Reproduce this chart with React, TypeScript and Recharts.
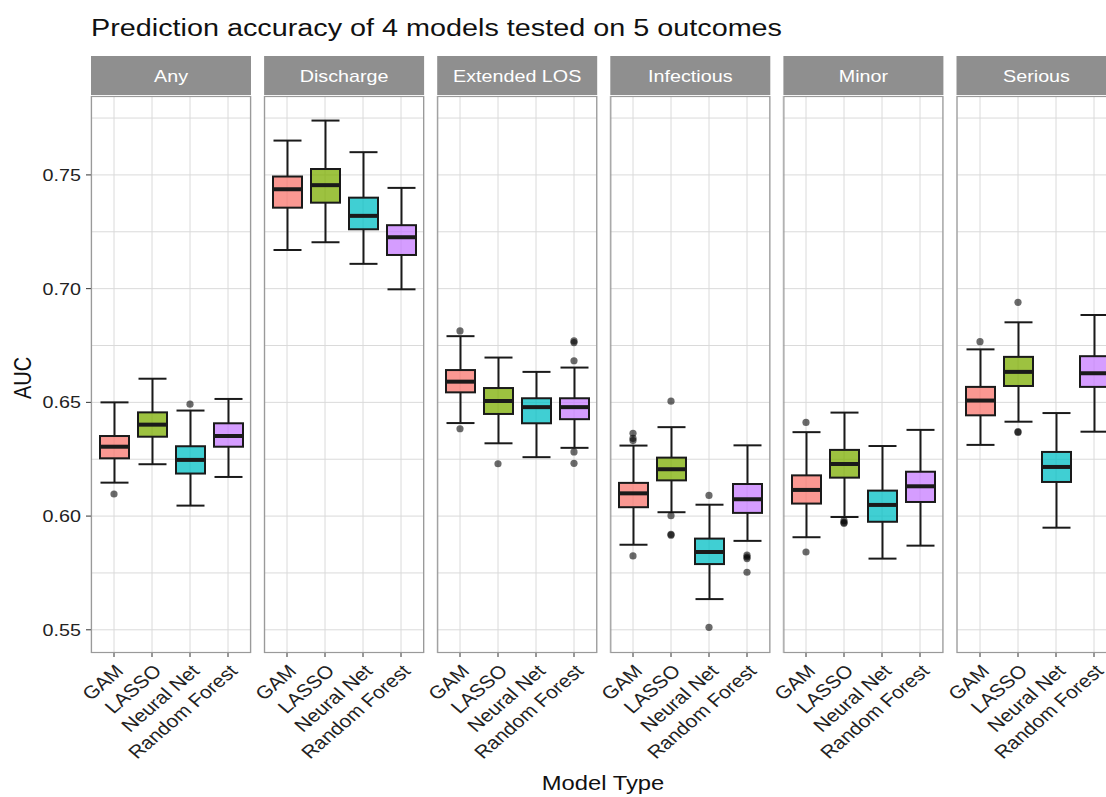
import React from 'react';
import { ComposedChart, Bar, Scatter, XAxis, YAxis, CartesianGrid } from 'recharts';

// ---------- data ----------
const MODELS = ['GAM', 'LASSO', 'Neural Net', 'Random Forest'];
const OUTCOMES = ['Any', 'Discharge', 'Extended LOS', 'Infectious', 'Minor', 'Serious'];
const MODEL_COLORS = ['#F8766D', '#7CAE00', '#00BFC4', '#C77CFF'];
const Y_TICKS = [0.55, 0.6, 0.65, 0.7, 0.75];
const Y_GRID = [0.55, 0.575, 0.6, 0.625, 0.65, 0.675, 0.7, 0.725, 0.75, 0.775];
const Y_DOMAIN = [0.5398, 0.7847];

// [lower whisker, Q1, median, Q3, upper whisker] for GAM, LASSO, Neural Net, Random Forest
const ANY = [
  [0.6147, 0.6254, 0.6305, 0.6352, 0.65],
  [0.6228, 0.6349, 0.6402, 0.6456, 0.6604],
  [0.6046, 0.6187, 0.6247, 0.6307, 0.6464],
  [0.6172, 0.6305, 0.6352, 0.6408, 0.6515],
];
const DISCHARGE = [
  [0.717, 0.7356, 0.7437, 0.7493, 0.7651],
  [0.7204, 0.7378, 0.7455, 0.7526, 0.7739],
  [0.7109, 0.7261, 0.732, 0.74, 0.76],
  [0.6997, 0.7148, 0.7226, 0.7279, 0.7443],
];
const EXTENDED_LOS = [
  [0.6409, 0.6544, 0.6591, 0.6642, 0.6791],
  [0.632, 0.6449, 0.6506, 0.6563, 0.6697],
  [0.6259, 0.6408, 0.6479, 0.6518, 0.6634],
  [0.63, 0.6426, 0.6479, 0.6518, 0.6653],
];
const INFECTIOUS = [
  [0.5874, 0.6039, 0.61, 0.6146, 0.631],
  [0.6017, 0.6157, 0.6206, 0.6257, 0.6391],
  [0.5635, 0.5789, 0.5842, 0.5901, 0.605],
  [0.5891, 0.6014, 0.6074, 0.6141, 0.6311],
];
const MINOR = [
  [0.5907, 0.6055, 0.6115, 0.6179, 0.6369],
  [0.5996, 0.6169, 0.6229, 0.6291, 0.6455],
  [0.5813, 0.5975, 0.6049, 0.6112, 0.6308],
  [0.587, 0.6062, 0.6131, 0.6195, 0.6379],
];
const SERIOUS = [
  [0.6313, 0.6443, 0.6508, 0.6568, 0.6733],
  [0.6415, 0.6572, 0.6634, 0.67, 0.6852],
  [0.5949, 0.615, 0.6216, 0.6282, 0.6453],
  [0.6371, 0.6568, 0.6628, 0.6703, 0.6884],
];

// outliers per model (GAM, LASSO, Neural Net, Random Forest)
const ANY_OUT = [[0.6097], [], [0.6492], []];
const DISCHARGE_OUT = [[], [], [], []];
const EXTENDED_LOS_OUT = [[0.6814, 0.6384], [0.623], [], [0.677, 0.6763, 0.6683, 0.6282, 0.6232]];
const INFECTIOUS_OUT = [[0.6364, 0.6342, 0.6332, 0.5825], [0.6505, 0.6002, 0.592, 0.5916], [0.6091, 0.5511], [0.5828, 0.582, 0.5813, 0.5753]];
const MINOR_OUT = [[0.6412, 0.5842], [0.598, 0.5968, 0.5972], [], []];
const SERIOUS_OUT = [[0.6767], [0.694, 0.6371, 0.6368], [], []];

const STATS = [ANY, DISCHARGE, EXTENDED_LOS, INFECTIOUS, MINOR, SERIOUS];
const OUTLIERS = [ANY_OUT, DISCHARGE_OUT, EXTENDED_LOS_OUT, INFECTIOUS_OUT, MINOR_OUT, SERIOUS_OUT];

// ---------- layout ----------
const FONT = '"Liberation Sans", Arial, Helvetica, sans-serif';
const SX = 1.16;
const PANEL_TOP = 96;
const PANEL_H = 557;
const PANEL_W = 160;
const FIRST_LEFT = 91;
const STEP = 173.1;
const XAXIS_H = 110;
const LEFT_PAD = 80;
const RIGHT_PAD = 10;
const STRIP_TOP = 56;
const STRIP_H = 39;
const INK = '#1a1a1a';

const BoxShape = (props: any) => {
  const { x, y, width, height, payload } = props;
  if (!payload) return null;
  const top = Math.min(y, y + height);
  const h = Math.abs(height);
  const { low, q1, med, q3, high, model } = payload;
  const py = (v: number) => top + (h * (high - v)) / (high - low);
  const cx = x + width / 2;
  const hw = width / 2;
  const color = MODEL_COLORS[MODELS.indexOf(model)];
  return (
    <g>
      <line x1={cx} x2={cx} y1={py(high)} y2={py(q3)} stroke={INK} strokeWidth={2} />
      <line x1={cx} x2={cx} y1={py(q1)} y2={py(low)} stroke={INK} strokeWidth={2} />
      <line x1={cx - hw + 0.5} x2={cx + hw - 0.5} y1={py(high)} y2={py(high)} stroke={INK} strokeWidth={2} />
      <line x1={cx - hw + 0.5} x2={cx + hw - 0.5} y1={py(low)} y2={py(low)} stroke={INK} strokeWidth={2} />
      <rect x={cx - hw} y={py(q3)} width={width} height={py(q1) - py(q3)} fill={color} fillOpacity={0.75} stroke={INK} strokeWidth={2} />
      <line x1={cx - hw} x2={cx + hw} y1={py(med)} y2={py(med)} stroke={INK} strokeWidth={4} />
    </g>
  );
};

const OutlierDot = (props: any) => {
  const { cx, cy } = props;
  if (cx == null || cy == null) return null;
  return <circle cx={cx} cy={cy} r={3.6} fill="#000" fillOpacity={0.58} />;
};

const XTick = (props: any) => {
  const { x, y, payload } = props;
  return (
    <g transform={`translate(${x},${y}) scale(${SX},1) rotate(-45)`}>
      <text x={0} y={0} dy="0.72em" textAnchor="end" fill="#222" fontSize={18} fontFamily={FONT}>
        {payload.value}
      </text>
    </g>
  );
};

const YTick = (props: any) => {
  const { x, y, payload } = props;
  return (
    <text transform={`translate(${x},${y}) scale(${SX},1)`} x={0} y={0} dy="0.36em" textAnchor="end" fill="#222" fontSize={17} fontFamily={FONT}>
      {Number(payload.value).toFixed(2)}
    </text>
  );
};

function Facet({ index }: { index: number }) {
  const first = index === 0;
  const panelLeft = FIRST_LEFT + index * STEP;
  const rows = MODELS.map((m, i) => {
    const [low, q1, med, q3, high] = STATS[index][i];
    return { model: m, low, q1, med, q3, high };
  });
  const outRows: { model: string; v: number }[] = [];
  MODELS.forEach((m, i) => OUTLIERS[index][i].forEach((v) => outRows.push({ model: m, v })));
  return (
    <div style={{ position: 'absolute', left: panelLeft - LEFT_PAD, top: PANEL_TOP }}>
      <ComposedChart
        width={LEFT_PAD + PANEL_W + RIGHT_PAD}
        height={PANEL_H + XAXIS_H}
        data={rows}
        margin={{ top: 0, right: RIGHT_PAD, bottom: 0, left: first ? 0 : LEFT_PAD }}
      >
        <CartesianGrid stroke="#dadada" strokeWidth={1} horizontalValues={Y_GRID} />
        <XAxis
          dataKey="model"
          type="category"
          allowDuplicatedCategory={false}
          interval={0}
          height={XAXIS_H}
          padding={{ left: 4, right: 4 }}
          axisLine={false}
          tickSize={4}
          tickMargin={6}
          tickLine={{ stroke: '#333' }}
          tick={<XTick />}
        />
        <YAxis
          type="number"
          domain={Y_DOMAIN}
          allowDataOverflow
          ticks={Y_TICKS}
          width={LEFT_PAD}
          hide={!first}
          axisLine={false}
          tickSize={5}
          tickMargin={5}
          tickLine={{ stroke: '#333' }}
          tick={<YTick />}
        />
        <Bar dataKey={(d: any) => [d.low, d.high]} barSize={29} shape={BoxShape} isAnimationActive={false} />
        <Scatter data={outRows} dataKey="v" shape={OutlierDot} isAnimationActive={false} />
      </ComposedChart>
    </div>
  );
}

export default function App() {
  const panelLefts = OUTCOMES.map((_, i) => FIRST_LEFT + i * STEP);
  return (
    <div style={{ position: 'fixed', left: 0, top: 0, width: 1106, height: 797, overflow: 'hidden', background: '#fff' }}>
      <svg width={1106} height={797} style={{ position: 'absolute', left: 0, top: 0 }}>
        <text transform={`translate(91,36) scale(1.18,1)`} fontSize={24.4} fill="#111" fontFamily={FONT}>
          Prediction accuracy of 4 models tested on 5 outcomes
        </text>
        {OUTCOMES.map((o, i) => (
          <g key={o}>
            <rect x={panelLefts[i]} y={STRIP_TOP} width={PANEL_W} height={STRIP_H} fill="#8f8f8f" />
            <text
              transform={`translate(${panelLefts[i] + PANEL_W / 2},82) scale(${SX},1)`}
              textAnchor="middle"
              fontSize={17}
              fill="#ffffff"
              fontFamily={FONT}
            >
              {o}
            </text>
          </g>
        ))}
        <text transform={`translate(603,790) scale(${SX},1)`} textAnchor="middle" fontSize={20.5} fill="#111" fontFamily={FONT}>
          Model Type
        </text>
        <text transform={`translate(31,378) scale(${SX},1) rotate(-90)`} textAnchor="middle" fontSize={20} fill="#111" fontFamily={FONT}>
          AUC
        </text>
      </svg>
      {OUTCOMES.map((o, i) => (
        <Facet key={o} index={i} />
      ))}
      <svg width={1106} height={797} style={{ position: 'absolute', left: 0, top: 0, pointerEvents: 'none' }}>
        {panelLefts.map((l, i) => (
          <rect key={i} x={l + 0.5} y={PANEL_TOP + 0.5} width={PANEL_W - 1} height={PANEL_H - 1} fill="none" stroke="#9a9a9a" strokeWidth={1.2} />
        ))}
      </svg>
    </div>
  );
}
